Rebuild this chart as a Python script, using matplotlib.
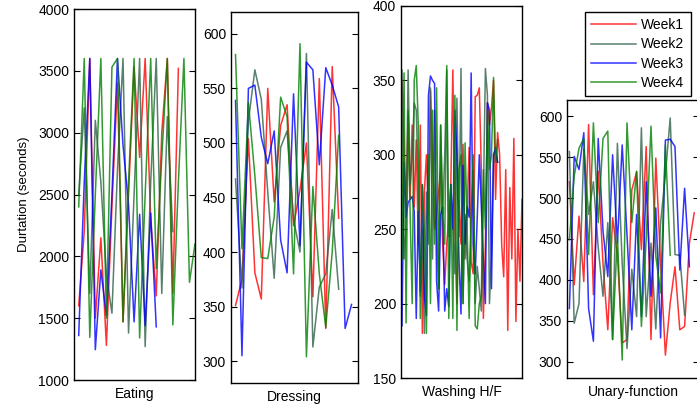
import matplotlib
matplotlib.use("Agg")
import numpy as np
import matplotlib.pyplot as plt

plt.rcParams['font.family'] = ['Liberation Sans', 'DejaVu Sans']
plt.rcParams['font.size'] = 10

# 週ごとの色
week_names = ['Week1', 'Week2', 'Week3', 'Week4']
week_colors = ['#ff0000', '#2e6148', '#0000ff', '#008000']

activities = ['Eating', 'Dressing', 'Washing H/F', 'Unary-function']

# ---- Eating ----
eat_w1 = [1600, 2200, 3600, 1500, 2150, 1280, 2400, 3400, 1470, 2500, 3530, 2800, 3600,
          2300, 1680, 3000, 3600, 1700, 3520]
eat_w2 = [2500, 3200, 1700, 3100, 2600, 1850, 1540, 2700, 3600, 1380, 2500, 3600, 1270,
          2600, 3600, 1700, 3130, 2200]
eat_w3 = [1360, 2600, 3600, 1245, 1890, 1520, 2500, 3600, 2900, 2420, 1470, 2340, 1440,
          2350, 1430]
eat_w4 = [2400, 3600, 1345, 2500, 3600, 1500, 3530, 3600, 1470, 2600, 3600, 1340, 2500,
          3600, 1900, 2800, 3600, 1445, 2600, 3600, 1790, 2100]

# ---- Dressing ----
dre_w1 = [351, 375, 504, 381, 357, 550, 446, 516, 535, 424, 457, 500, 359, 559, 330, 570, 431]
dre_w2 = [467, 367, 520, 567, 540, 455, 376, 496, 511, 430, 400, 582, 313, 368, 380, 439, 366]
dre_w3 = [539, 305, 550, 553, 505, 481, 511, 411, 381, 545, 406, 574, 567, 480, 569, 553,
          533, 330, 352]
dre_w4 = [581, 403, 537, 470, 395, 394, 432, 542, 524, 380, 591, 304, 460, 380, 331, 400, 507]

# ---- Washing H/F ----
was_w1 = [350, 300, 265, 327, 270, 320, 265, 310, 240, 320, 180, 275, 300, 260, 343, 300,
          250, 260, 275, 290, 240, 213, 240, 258, 280, 357, 250, 200, 270, 240, 307, 230,
          260, 305, 228, 220, 339, 340, 345, 290, 190, 240, 335, 320, 332, 350, 270, 315,
          300, 240, 218, 290, 182, 278, 230, 311, 188, 250, 215, 270]
was_w2 = [357, 230, 250, 357, 280, 300, 335, 330, 280, 205, 250, 180, 275, 240, 345, 230,
          330, 250, 210, 320, 260, 300, 357, 245, 280, 250, 220, 338, 245, 358, 200, 260,
          230, 215, 255, 290, 200, 225, 210, 195, 270, 358, 340, 200, 235, 300, 303, 295]
was_w3 = [185, 295, 258, 268, 270, 272, 262, 190, 262, 208, 280, 205, 192, 340, 353, 350,
          348, 215, 195, 260, 265, 195, 210, 198, 280, 250, 330, 300, 230, 193, 293, 240,
          265, 258, 355, 240, 220, 258, 300, 265, 230, 200, 335, 330, 210, 300, 305, 295]
was_w4 = [230, 355, 187, 330, 260, 200, 350, 360, 320, 190, 280, 250, 180, 300, 200, 330,
          240, 345, 210, 320, 260, 240, 360, 190, 280, 190, 340, 182, 290, 300, 200, 308,
          252, 190, 260, 300, 185, 183, 200, 205, 290, 250, 330, 290, 300, 352, 295, 310]

# ---- Unary-function ----
una_w1 = [520, 394, 478, 398, 590, 382, 533, 420, 339, 476, 430, 323, 327, 510, 532, 437,
          563, 327, 549, 420, 308, 372, 416, 339, 343, 445, 482]
una_w2 = [557, 347, 371, 560, 480, 520, 440, 380, 470, 327, 567, 420, 316, 413, 355, 586,
          355, 445, 340, 470, 529, 598, 431, 430, 357]
una_w3 = [365, 551, 535, 580, 365, 325, 573, 460, 404, 553, 445, 565, 455, 339, 480, 355,
          520, 380, 488, 329, 571, 572, 563, 412, 512, 416]
una_w4 = [449, 527, 561, 573, 431, 592, 470, 573, 582, 327, 455, 302, 592, 470, 533, 343,
          450, 588, 429, 384, 565, 430]

panels = [
    (activities[0], [eat_w1, eat_w2, eat_w3, eat_w4], (1000, 4000), np.arange(1000, 4001, 500), (0.15, 22)),
    (activities[1], [dre_w1, dre_w2, dre_w3, dre_w4], (280, 620), np.arange(300, 601, 50), (0.3, 20)),
    (activities[2], [was_w1, was_w2, was_w3, was_w4], (150, 400), np.arange(150, 401, 50), (0.5, 60)),
    (activities[3], [una_w1, una_w2, una_w3, una_w4], (280, 620), np.arange(300, 601, 50), (0.5, 28)),
]

# axes の位置（図に対する割合）
W, H = 697, 412
boxes = [(74, 9, 195, 380), (231, 12, 358, 383), (401, 6, 522, 378), (567, 100, 699, 378)]

fig = plt.figure(figsize=(W / 100, H / 100), dpi=100)

for (name, series, ylim, yticks, xlim), (x0, y0, x1, y1) in zip(panels, boxes):
    ax = fig.add_axes([x0 / W, 1 - y1 / H, (x1 - x0) / W, (y1 - y0) / H])
    for vals, col, lab in zip(series, week_colors, week_names):
        x = np.arange(1, len(vals) + 1)
        ax.plot(x, vals, color=col, lw=1.1, alpha=0.8, label=lab)
    ax.set_xlim(*xlim)
    ax.set_ylim(*ylim)
    ax.set_yticks(yticks)
    ax.set_xticks([])
    ax.tick_params(axis='y', direction='in', length=4, right=True, labelsize=10, width=0.8)
    ax.set_xlabel(name, fontsize=10, labelpad=5)
    for sp in ax.spines.values():
        sp.set_linewidth(1.0)
    if name == 'Eating':
        ax.set_ylabel('Durtation (seconds)', fontsize=9.5, labelpad=6)

handles = fig.axes[0].get_lines()
fig.legend(handles, week_names, loc='upper left', bbox_to_anchor=(585 / W, 1 - 12 / H),
           frameon=True, fancybox=False, edgecolor='black', framealpha=1,
           fontsize=10, labelspacing=0.37, handlelength=3.2, handletextpad=0.4,
           borderpad=0.45, borderaxespad=0)

fig.savefig('out.png', dpi=100)
